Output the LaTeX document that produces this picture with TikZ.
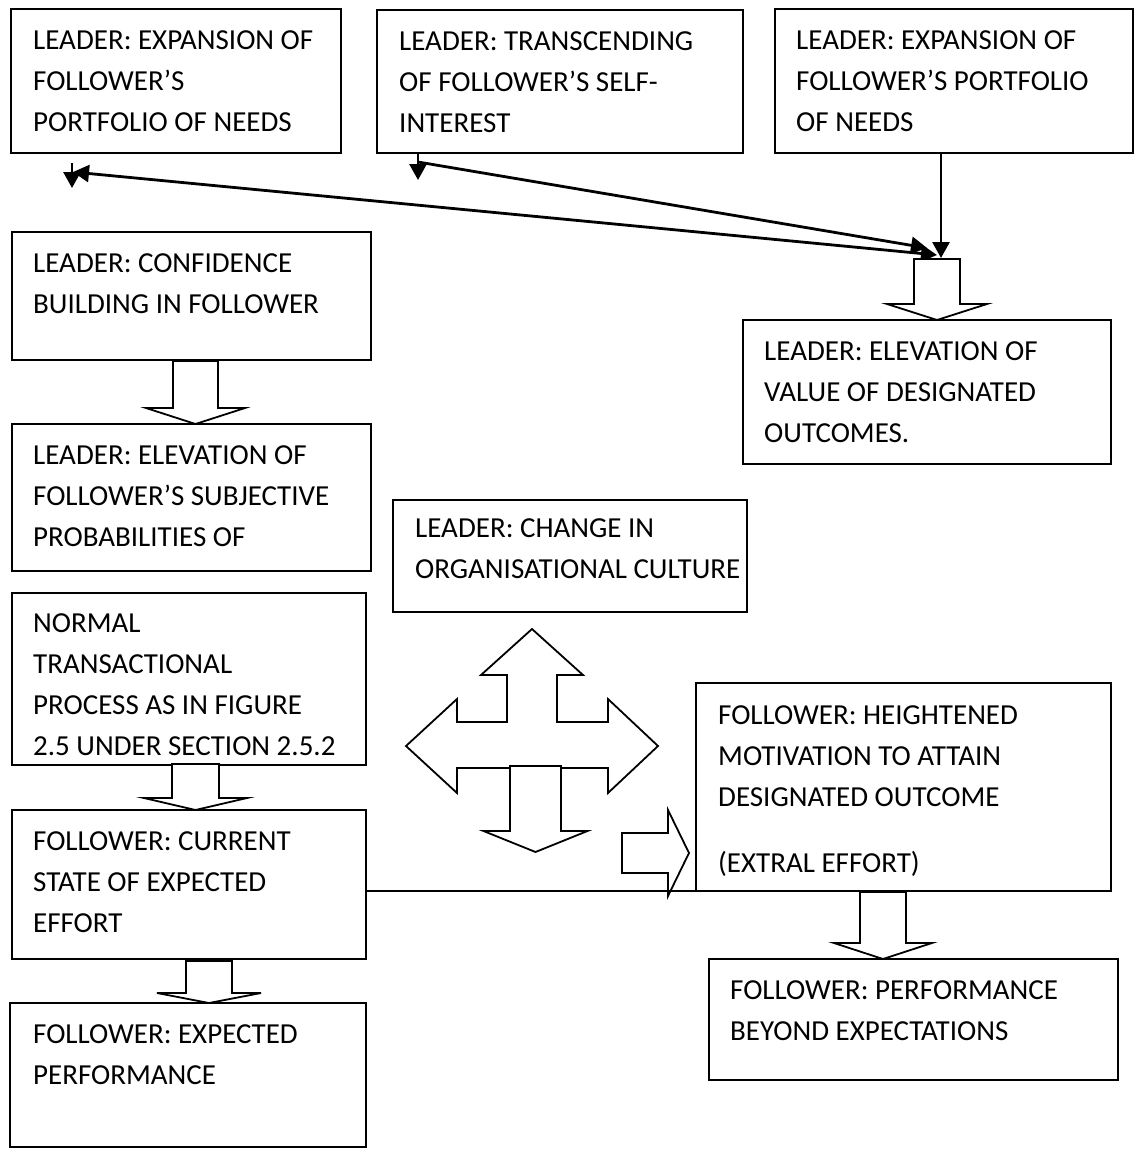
\documentclass[tikz,border=0pt]{standalone}
\usepackage{fontspec}
\setmainfont{Carlito}
\usetikzlibrary{arrows.meta,calc}
% hollow downward block arrow: centre x, top y, wing y, tip y, shaft half-width, head half-width
\newcommand\blkdown[6]{%
  \draw[blk] ({#1-#5},#2) -- ({#1-#5},#3) -- ({#1-#6},#3) -- (#1,#4)
    -- ({#1+#6},#3) -- ({#1+#5},#3) -- ({#1+#5},#2) -- cycle;}
\begin{document}
\begin{tikzpicture}[x=1pt,y=-1pt,
  box/.style={draw,line width=2pt,anchor=north west,inner sep=0pt,outer sep=0pt},
  txt/.style={anchor=north west,inner sep=0pt,align=left,
    font=\fontsize{29}{41}\selectfont},
  arr/.style={line width=2.8pt,-{Triangle[length=16pt,width=17pt]}},
  darr/.style={line width=2.8pt,{Triangle[length=16pt,width=17pt]}-{Triangle[length=16pt,width=17pt]}},
  ln/.style={line width=2pt},
  blk/.style={draw,line width=1.8pt,fill=white,line join=miter}]
\useasboundingbox (0,0) rectangle (1134,1149);

% boxes
\node[box,minimum width=330pt,minimum height=144pt] (A1) at (11,9) {};
\node[box,minimum width=366pt,minimum height=143pt] (A2) at (377,10) {};
\node[box,minimum width=358pt,minimum height=144pt] (A3) at (775,9) {};
\node[box,minimum width=368pt,minimum height=144pt] (B) at (743,320) {};
\node[box,minimum width=359pt,minimum height=128pt] (C) at (12,232) {};
\node[box,minimum width=359pt,minimum height=147pt] (D) at (12,424) {};
\node[box,minimum width=354pt,minimum height=172pt] (E) at (12,593) {};
\node[box,minimum width=354pt,minimum height=149pt] (F) at (12,810) {};
\node[box,minimum width=356pt,minimum height=144pt] (G) at (10,1003) {};
\node[box,minimum width=354pt,minimum height=112pt] (H) at (393,500) {};
\node[box,minimum width=415pt,minimum height=208pt] (I) at (696,683) {};
\node[box,minimum width=409pt,minimum height=121pt] (J) at (709,959) {};

% texts (the strut fixes the first baseline below the node top)
\node[txt] (tA1) at (33,21) {\strut LEADER: EXPANSION OF\\FOLLOWER’S\\PORTFOLIO OF NEEDS};
\node[txt] (tA2) at (399,22) {\strut LEADER: TRANSCENDING\\OF FOLLOWER’S SELF-\\INTEREST};
\node[txt] (tA3) at (796,21) {\strut LEADER: EXPANSION OF\\FOLLOWER’S PORTFOLIO\\OF NEEDS};
\node[txt] (tB) at (764,332) {\strut LEADER: ELEVATION OF\\VALUE OF DESIGNATED\\OUTCOMES.};
\node[txt] (tC) at (33,244) {\strut LEADER: CONFIDENCE\\BUILDING IN FOLLOWER};
\node[txt] (tD) at (33,436) {\strut LEADER: ELEVATION OF\\FOLLOWER’S SUBJECTIVE\\PROBABILITIES OF};
\node[txt] (tE) at (33,604) {\strut NORMAL\\TRANSACTIONAL\\PROCESS AS IN FIGURE\\2.5 UNDER SECTION 2.5.2};
\node[txt] (tF) at (33,822) {\strut FOLLOWER: CURRENT\\STATE OF EXPECTED\\EFFORT};
\node[txt] (tG) at (33,1015) {\strut FOLLOWER: EXPECTED\\PERFORMANCE};
\node[txt] (tH) at (415,509) {\strut LEADER: CHANGE IN\\ORGANISATIONAL CULTURE};
\node[txt] (tI) at (718,696) {\strut FOLLOWER: HEIGHTENED\\MOTIVATION TO ATTAIN\\DESIGNATED OUTCOME\\[25pt](EXTRAL EFFORT)};
\node[txt] (tJ) at (730,971) {\strut FOLLOWER: PERFORMANCE\\BEYOND EXPECTATIONS};

% line arrows under the top row
\coordinate (a1s) at (72,163);
\coordinate (a1e) at (72,188);
\coordinate (a1l) at (73,172);
\coordinate (bR1) at (937,255);
\coordinate (a2x) at (418,0);
\coordinate (a2e) at (418,180);
\coordinate (a2m) at (418,162);
\coordinate (bR2) at (927,248);
\coordinate (a3x) at (941,0);
\coordinate (bR3) at (941,258);
\draw[arr] (a1s) -- (a1e);
\draw[darr] (a1l) -- (bR1);
\draw[arr] (A2.south -| a2x) -- (a2e);
\draw[arr] (a2m) -- (bR2);
\draw[arr] (A3.south -| a3x) -- (bR3);

% hollow block arrows
\blkdown{937}{259}{304}{320}{23}{50}
\blkdown{195.5}{361}{408}{424}{22.5}{49.5}
\blkdown{195.5}{764}{798}{810}{23.5}{51.5}
\blkdown{209}{961}{993}{1003}{23}{52}
\blkdown{883}{892}{943}{959}{23}{49}

% three-way arrow (up, left, right) with a downward arrow over it
\draw[blk] (532,629) -- (583,675) -- (557,675) -- (557,722) -- (608,722) -- (608,699)
  -- (658,746) -- (608,793) -- (608,768) -- (457,768) -- (457,793) -- (406,746)
  -- (457,699) -- (457,722) -- (507,722) -- (507,675) -- (481,675) -- cycle;
\blkdown{535.5}{766}{831}{852}{25.5}{52}

% small right arrow towards the follower box
\draw[blk] (622,833) -- (668,833) -- (668,810) -- (689,853) -- (668,896)
  -- (668,873) -- (622,873) -- cycle;

% link from current state of effort to heightened motivation
\draw[ln] (F.east |- I.south west) -- (I.south west);
\end{tikzpicture}
\end{document}
